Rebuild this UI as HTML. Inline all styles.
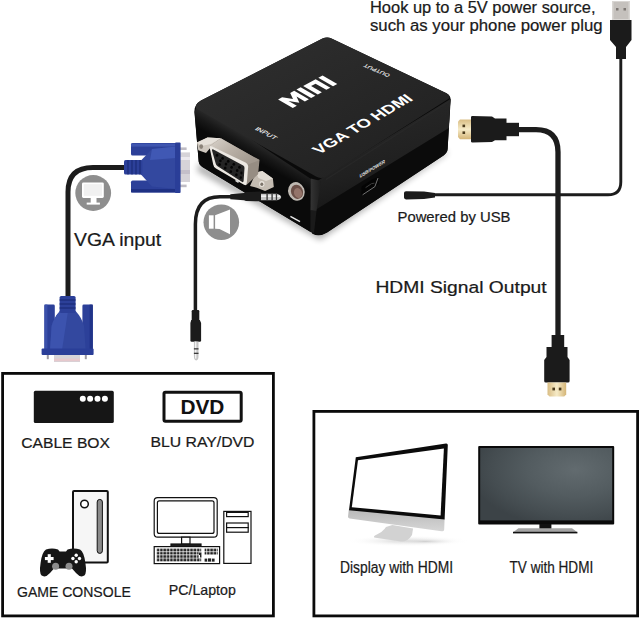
<!DOCTYPE html>
<html>
<head>
<meta charset="utf-8">
<title>VGA to HDMI</title>
<style>
html,body{margin:0;padding:0;background:#fff;}
body{width:640px;height:619px;overflow:hidden;position:relative;font-family:"Liberation Sans",sans-serif;}
svg{position:absolute;left:0;top:0;display:block;}
text{font-family:"Liberation Sans",sans-serif;fill:#1a1a1a;}
</style>
</head>
<body>
<svg width="640" height="619" viewBox="0 0 640 619">
<defs>
  <linearGradient id="gTop" x1="0" y1="0" x2="1" y2="1">
    <stop offset="0" stop-color="#303030"/>
    <stop offset="1" stop-color="#1f1f1f"/>
  </linearGradient>
  <linearGradient id="gRight" x1="0" y1="0" x2="0.3" y2="1">
    <stop offset="0" stop-color="#2a2a2a"/>
    <stop offset="0.7" stop-color="#202020"/>
    <stop offset="1" stop-color="#161616"/>
  </linearGradient>
  <linearGradient id="gLeft" gradientUnits="userSpaceOnUse" x1="250" y1="139.1" x2="242.1" y2="153">
    <stop offset="0" stop-color="#272727"/>
    <stop offset="0.45" stop-color="#181818"/>
    <stop offset="1" stop-color="#0a0a0a"/>
  </linearGradient>
  <linearGradient id="gEdge" x1="0" y1="0" x2="1" y2="0">
    <stop offset="0" stop-color="#343434"/>
    <stop offset="1" stop-color="#1d1d1d"/>
  </linearGradient>
  <radialGradient id="gTV" cx="0.72" cy="0.3" r="0.8" gradientTransform="translate(0 0) scale(1 1)">
    <stop offset="0" stop-color="#626b6f"/>
    <stop offset="0.45" stop-color="#535c60"/>
    <stop offset="0.8" stop-color="#454d51"/>
    <stop offset="1" stop-color="#3c4347"/>
  </radialGradient>
  <linearGradient id="gGold" x1="0" y1="0" x2="0" y2="1">
    <stop offset="0" stop-color="#d9bd84"/>
    <stop offset="0.5" stop-color="#f6ebc8"/>
    <stop offset="1" stop-color="#d4b577"/>
  </linearGradient>
  <linearGradient id="gGoldH" x1="0" y1="0" x2="1" y2="0">
    <stop offset="0" stop-color="#d9bd84"/>
    <stop offset="0.5" stop-color="#f6ebc8"/>
    <stop offset="1" stop-color="#d4b577"/>
  </linearGradient>
  <linearGradient id="gSilver" x1="0" y1="0" x2="0" y2="1">
    <stop offset="0" stop-color="#e4e0da"/>
    <stop offset="1" stop-color="#a9a39a"/>
  </linearGradient>
  <linearGradient id="gChin" x1="0" y1="0" x2="0" y2="1">
    <stop offset="0" stop-color="#b9b9b9"/>
    <stop offset="1" stop-color="#d6d6d6"/>
  </linearGradient>
  <radialGradient id="gShadow" cx="0.5" cy="0.5" r="0.5">
    <stop offset="0" stop-color="#cfcfcf"/>
    <stop offset="1" stop-color="#ffffff" stop-opacity="0"/>
  </radialGradient>
  <pattern id="pKeys" x="156.6" y="548.4" width="3.35" height="3.35" patternUnits="userSpaceOnUse">
    <rect x="0.2" y="0.2" width="2.6" height="2.6" fill="#222"/>
  </pattern>
  <linearGradient id="gShell" x1="0" y1="0" x2="1" y2="0.6">
    <stop offset="0" stop-color="#d9d3cb"/>
    <stop offset="0.5" stop-color="#b9b0a6"/>
    <stop offset="1" stop-color="#a2998f"/>
  </linearGradient>
  <filter id="fBlur" x="-20%" y="-40%" width="140%" height="180%"><feGaussianBlur stdDeviation="3.2"/></filter>
</defs>

<rect x="0" y="0" width="640" height="619" fill="#ffffff"/>

<!-- ============ CABLES ============ -->
<g fill="none" stroke="#1c1c1c" stroke-linecap="butt">
  <!-- VGA cable -->
  <path d="M68 299 L68 192 Q68 167.5 93 167.5 L126 167.5" stroke-width="5"/>
  <!-- audio cable -->
  <path d="M195.4 311 L195.4 224 Q195.4 196.7 220 196.7 L232 196.7" stroke-width="3.5"/>
  <!-- HDMI cable -->
  <path d="M517 129.6 L536 129.6 Q558 129.6 558 152 L558 337" stroke-width="5.3"/>
  <!-- USB power cable -->
  <path d="M433 194.8 L608 194.8 Q620.8 194.8 620.8 182 L620.8 58" stroke-width="2.9"/>
</g>

<!-- ============ USB-A plug (top right) ============ -->
<g>
  <rect x="612" y="1" width="18" height="19" fill="#d9d6d3"/>
  <rect x="613.5" y="2" width="15" height="17" fill="#c5c1bd"/>
  <rect x="616" y="8" width="2.5" height="2.5" fill="#7d7773"/>
  <rect x="623.5" y="8" width="2.5" height="2.5" fill="#7d7773"/>
  <path d="M610 20 L631.5 20 L631.5 40 L626 47 L626 59 L616 59 L616 47 L610 40 Z" fill="#1b1b1b"/>
</g>

<!-- ============ HDMI plug (top, horizontal) ============ -->
<g>
  <path d="M458 121.5 L460 119.5 L471.5 119.5 L471.5 139.2 L460 139.2 L458 137 Z" fill="url(#gGold)"/>
  <rect x="462.5" y="124.6" width="2.6" height="2.6" fill="#4a3a1c"/>
  <rect x="462.5" y="131.4" width="2.6" height="2.6" fill="#4a3a1c"/>
  <path d="M471 117 Q471 116 472.5 116 L492 116.5 L495 118.5 L506.5 118.5 L506.5 140.2 L495 140.2 L492 142 L472.5 142.5 Q471 142.5 471 141.5 Z" fill="#1b1b1b"/>
  <rect x="506" y="122.8" width="13" height="13.4" fill="#1b1b1b"/>
</g>

<!-- ============ HDMI plug (bottom, vertical) ============ -->
<g>
  <rect x="551.6" y="335" width="12.6" height="12" fill="#1b1b1b"/>
  <path d="M546.5 347 L567.5 347 L567.5 357 L569.6 360 L569.6 381 Q569.6 382.6 568 382.6 L545.8 382.6 Q544.2 382.6 544.2 381 L544.2 360 L546.5 357 Z" fill="#1b1b1b"/>
  <path d="M547.5 382.4 L566.2 382.4 L566.2 394.5 L564.2 396.5 L549.5 396.5 L547.5 394.5 Z" fill="url(#gGoldH)"/>
  <rect x="552.4" y="387.6" width="2.6" height="2.8" fill="#4a3a1c"/>
  <rect x="558.8" y="387.6" width="2.6" height="2.8" fill="#4a3a1c"/>
</g>

<!-- ============ DC barrel plug ============ -->
<g>
  <path d="M404 193 Q404 191.2 406 191.2 L424 191.6 L435 193 L435 197.4 L424 199 L406 199.4 Q404 199.4 404 197.6 Z" fill="#1b1b1b"/>
</g>

<!-- ============ CONVERTER BOX ============ -->
<g id="box">
  <path d="M199 163 L318 231 L447 150 L447 154 L320 240 L197 171 Z" fill="#000" opacity="0.32" filter="url(#fBlur)"/>
  <!-- silhouette -->
  <path d="M194.4 112 Q194 104.5 201 100.4 L322.5 38.6 Q327 36.3 331.5 38.5 L446.5 93.2 Q451.2 95.6 450.6 101 L447.6 149 Q447.3 153 443.5 155.4 L327 232.6 Q319 237.6 311 232.2 L202.4 167 Q199 165 198.7 161.6 Z" fill="#0a0a0a"/>
  <!-- left face -->
  <path d="M194.6 112 L198.7 161.6 Q199 165 202.4 167 L310.4 231.8 L311 179 L198 104 Z" fill="url(#gLeft)"/>
  <!-- right face -->
  <path d="M322 178 L450.4 99 L447.6 149 Q447.3 153 443.5 155.4 L327 232.6 Q319 237.6 312 233.5 L316 182 Z" fill="#0b0b0b"/>
  <path d="M322 178 L450.4 99 L448.8 128 L313.6 211 L316 182 Z" fill="url(#gRight)"/>
  <!-- top face -->
  <path d="M195.6 107 Q196 103 201 100.4 L322.5 38.6 Q327 36.3 331.5 38.5 L446.5 93.2 Q451 95.5 449 98.5 L326 176.4 Q321 179.4 316 176.6 L198 109.6 Q195.4 108.6 195.6 107 Z" fill="url(#gTop)"/>
  <!-- front edge highlight -->
  <path d="M310.8 178.5 L321 181 L316.5 211 L310.5 210.6 Z" fill="url(#gEdge)"/>
  <path d="M310.5 210.6 L316.5 211 L314 233 L310.4 231.6 Z" fill="#1a1a1a"/>
  <path d="M326 179.5 L449 101.5" stroke="#2b2b2b" stroke-width="1.2" fill="none" opacity="0.6"/>

  <!-- VGA port -->
  <g>
    <!-- left ear -->
    <path d="M196.9 142.5 L207.5 137.6 L220.8 138.3 L211 147 L206 153.1 L198.3 150.3 Z" fill="#cfc8bf"/>
    <path d="M196.9 142.5 L207.5 137.6 L220.8 138.3 L211 144 L201 146 Z" fill="#e6e1da"/>
    <ellipse cx="201.2" cy="146.6" rx="1.9" ry="2.3" fill="#8b8379"/>
    <!-- right ear / flange -->
    <path d="M256 172.5 L262.3 171 L272.9 178.4 L273.8 186.9 L265.1 191 L256.7 187.8 L250 186 Z" fill="#c4bcb2"/>
    <path d="M256 172.5 L262.3 171 L272.9 178.4 L266 181 L258.5 178 Z" fill="#e2dcd4"/>
    <ellipse cx="261.8" cy="184" rx="2.7" ry="3" fill="#e8e3dc"/>
    <ellipse cx="261.8" cy="184.2" rx="1.5" ry="1.8" fill="#7c746a"/>
    <!-- shell top side -->
    <path d="M210 146.1 L220.8 138.3 L259.5 160.1 L258.1 174.2 L246.2 185.2 L247.6 164.6 Z" fill="#968d83"/>
    <path d="M210 146.1 L220.8 138.3 L259.5 160.1 L247.6 164.6 Z" fill="url(#gShell)"/>
    <!-- rim -->
    <path d="M209.6 147.6 Q209.4 145.4 211.6 146.2 L246 162.8 Q248.4 164.2 248.2 166.6 L246.8 183.4 Q246.4 186 244 184.8 L216 168.4 Q213.6 167 213.2 164.4 Z" fill="#ece8e2"/>
    <!-- inner -->
    <path d="M212 150.4 Q211.8 148.8 213.4 149.6 L243.2 165.6 Q244.6 166.4 244.5 168 L243.6 181 Q243.4 182.8 241.8 181.8 L217.6 166.2 Q216 165.2 215.7 163.4 Z" fill="#242424"/>
    <g fill="#050505">
      <ellipse cx="217" cy="155.2" rx="1.3" ry="1.5"/><ellipse cx="222.6" cy="158.2" rx="1.3" ry="1.5"/><ellipse cx="228.2" cy="161.2" rx="1.3" ry="1.5"/><ellipse cx="233.8" cy="164.2" rx="1.3" ry="1.5"/><ellipse cx="239.4" cy="167.2" rx="1.3" ry="1.5"/>
      <ellipse cx="220.4" cy="160.8" rx="1.3" ry="1.5"/><ellipse cx="226" cy="164" rx="1.3" ry="1.5"/><ellipse cx="231.6" cy="167.2" rx="1.3" ry="1.5"/><ellipse cx="237.2" cy="170.4" rx="1.3" ry="1.5"/><ellipse cx="241.4" cy="173" rx="1.1" ry="1.4"/>
      <ellipse cx="219.6" cy="164.6" rx="1.3" ry="1.5"/><ellipse cx="225.2" cy="168" rx="1.3" ry="1.5"/><ellipse cx="230.8" cy="171.4" rx="1.3" ry="1.5"/><ellipse cx="236.4" cy="174.8" rx="1.3" ry="1.5"/><ellipse cx="240.8" cy="177.6" rx="1.1" ry="1.4"/>
    </g>
    <rect x="235.4" y="180.4" width="3.6" height="1.6" fill="#ddd" transform="rotate(31 237 181)"/>
  </g>

  <!-- audio jack -->
  <ellipse cx="296.4" cy="191.4" rx="8.2" ry="9.4" fill="#bfb9b2" transform="rotate(-20 296.4 191.4)"/>
  <ellipse cx="297" cy="191.8" rx="6" ry="7.2" fill="#6c5048" transform="rotate(-20 297 191.8)"/>
  <ellipse cx="298" cy="193" rx="4" ry="5" fill="#94746a" transform="rotate(-20 298 193)"/>
  <!-- audio label -->
  <path d="M290.4 216.4 L300 221.6" stroke="#e8e8e8" stroke-width="1.5" fill="none"/>

  <!-- mini USB port -->
  <path d="M361.6 186.4 L372.4 179.2 L378.4 177 L378.6 184 L375.2 186.6 L363.2 194.8 Q361.4 195.6 361.4 193.8 Z" fill="#040404"/>
  <path d="M362.6 194.8 L374.9 186.6 L378 178" stroke="#8f8f8f" stroke-width="0.8" fill="none"/>
  <path d="M365.6 187.6 L371.6 183.6 L374.4 183.2" stroke="#3c3c3c" stroke-width="1" fill="none"/>

  <!-- TEXT ON BOX -->
  <g fill="#ffffff">
    <!-- MINI logo: local box 100x30 -->
    <g transform="matrix(0.447 -0.2405 0.49 0.283 278.1 99.4)">
      <path d="M0 0 L9 0 L18 14 L27 0 L36 0 L36 30 L27 30 L27 13 L18 27 L9 13 L9 30 L0 30 Z"/>
      <rect x="41" y="0" width="9.5" height="30"/>
      <path d="M56 30 L56 0 L84 0 L84 30 L75 30 L75 8 L65 8 L65 30 Z"/>
      <rect x="90" y="0" width="9.5" height="30"/>
    </g>
    <text transform="matrix(1.434 -0.836 1.21 0.91 319.2 154.8)" font-size="10" font-weight="bold" style="fill:#fff">VGA TO HDMI</text>
    <text transform="matrix(-0.615 -0.263 0.343 -0.384 390.5 74.5)" font-size="10" style="fill:#f0f0f0" stroke="#f0f0f0" stroke-width="0.25">OUTPUT</text>
    <text transform="matrix(0.667 0.347 -0.48 0.384 254.5 129.4)" font-size="10" style="fill:#f0f0f0" stroke="#f0f0f0" stroke-width="0.25">INPUT</text>
    <text transform="matrix(0.409 -0.245 0.02 0.5 359.7 178)" font-size="10" font-weight="bold" style="fill:#e6e6e6">USB/POWER</text>
  </g>
</g>

<!-- ============ AUDIO 3.5mm plug (horizontal, into box) ============ -->
<g>
  <path d="M230.3 194.2 L244 193 L246 192 L260 191.6 Q261.4 191.6 261.4 193 L261.4 200 Q261.4 201.3 260 201.3 L246 201 L244 200.2 L230.3 199.2 Z" fill="#1b1b1b"/>
  <path d="M261 193.8 L277 193.8 Q281 195 281.2 197 Q281 199.2 277 200.3 L261 200.3 Z" fill="#c6c6c6"/>
  <rect x="261" y="195.4" width="19" height="1.5" fill="#f4f4f4"/>
  <rect x="266.4" y="193.8" width="1.4" height="6.5" fill="#3a3a3a"/>
  <rect x="271.4" y="193.8" width="1.4" height="6.5" fill="#3a3a3a"/>
  <rect x="275.8" y="193.8" width="1.3" height="6.5" fill="#3a3a3a"/>
</g>
<!-- audio plug (vertical, lower) -->
<g>
  <rect x="191.7" y="310" width="7.6" height="10.4" rx="1.2" fill="#1b1b1b"/>
  <path d="M191.2 320 L199.8 320 L201.1 323 L201.1 340.4 Q201.1 341.8 199.6 341.8 L191.8 341.8 Q190.4 341.8 190.4 340.4 L190.4 323 Z" fill="#1b1b1b"/>
  <path d="M193.9 341.6 L198.5 341.6 L198.5 356 Q198.5 360.4 196.2 360.4 Q193.9 360.4 193.9 356 Z" fill="#c4c4c4"/>
  <rect x="195" y="341.6" width="1.4" height="17" fill="#f2f2f2"/>
  <rect x="193.9" y="348.2" width="4.6" height="1.3" fill="#3a3a3a"/>
  <rect x="193.9" y="352.7" width="4.6" height="1.3" fill="#3a3a3a"/>
</g>

<!-- ============ BLUE VGA plug (horizontal) ============ -->
<g>
  <!-- metal -->
  <rect x="180" y="152.4" width="10" height="29.6" fill="#d6d3d8"/>
  <rect x="180" y="157" width="10" height="3" fill="#ece9ee"/>
  <rect x="180" y="170" width="10" height="4" fill="#c4bfc9"/>
  <rect x="180" y="147.4" width="6.6" height="2.6" fill="#bfbcc4"/>
  <rect x="180" y="184.6" width="6.6" height="2.6" fill="#bfbcc4"/>
  <!-- thumbscrew bars -->
  <rect x="131" y="143" width="48" height="12.6" rx="1.6" fill="#2c4099"/>
  <rect x="131" y="180.6" width="48" height="12" rx="1.6" fill="#2c4099"/>
  <rect x="131" y="143.6" width="48" height="3" fill="#3f56b0"/>
  <rect x="131" y="189" width="48" height="3.4" fill="#1f3184"/>
  <!-- body -->
  <path d="M141 160.4 L152 149 L176 146.6 L176 189 L152 186.6 L141 174.6 Z" fill="#33489f"/>
  <path d="M152 149 L176 146.6 L176 158 L150 160 Z" fill="#4058b4"/>
  <!-- front plate -->
  <rect x="175" y="142.6" width="5.6" height="50.4" rx="1" fill="#2a3e98"/>
  <!-- strain relief -->
  <rect x="124" y="160" width="18.4" height="14.6" rx="1.6" fill="#2c4099"/>
  <g stroke="#1b2c78" stroke-width="1.2">
    <path d="M128 160 V174.6"/><path d="M132 160 V174.6"/><path d="M136 160 V174.6"/><path d="M140 160 V174.6"/>
  </g>
</g>

<!-- ============ BLUE VGA plug (vertical, bottom) ============ -->
<g>
  <!-- metal -->
  <rect x="54" y="354.6" width="26" height="7.4" fill="#d6d3d8"/>
  <rect x="54" y="358.6" width="26" height="2.6" fill="#e6c9cd"/>
  <rect x="46.8" y="354.6" width="2" height="4.6" fill="#9d9aa2"/>
  <rect x="84.8" y="354.6" width="2" height="4.6" fill="#9d9aa2"/>
  <!-- thumbscrews -->
  <rect x="44.4" y="304.6" width="10.4" height="46" rx="1.4" fill="#2c4099"/>
  <rect x="82.4" y="304.6" width="10.4" height="46" rx="1.4" fill="#2c4099"/>
  <rect x="44.4" y="304.6" width="3" height="46" fill="#3a50aa"/>
  <rect x="89.6" y="304.6" width="3.2" height="46" fill="#213489"/>
  <!-- body -->
  <path d="M60 311 L75.6 311 Q82 318 84 326 L85.6 350 L50 350 L51.6 326 Q53.6 318 60 311 Z" fill="#33489f"/>
  <path d="M60 311 L68 311 L62 350 L50 350 L51.6 326 Q53.6 318 60 311 Z" fill="#3c53ae"/>
  <!-- front plate -->
  <rect x="41.6" y="348.4" width="52" height="6.6" rx="1" fill="#2a3e98"/>
  <!-- strain relief -->
  <rect x="59.6" y="296" width="16" height="17" rx="1.6" fill="#2c4099"/>
  <g stroke="#1b2c78" stroke-width="1.2">
    <path d="M59.6 300 H75.6"/><path d="M59.6 304 H75.6"/><path d="M59.6 308 H75.6"/>
  </g>
</g>

<!-- ============ Gray icons ============ -->
<g>
  <circle cx="93.2" cy="193" r="17.9" fill="#8e8e8e"/>
  <rect x="82" y="182.4" width="21.8" height="15.6" rx="1.4" fill="#fff"/>
  <rect x="83.8" y="184.2" width="18.2" height="11.6" fill="#f1f1f1"/>
  <rect x="90.7" y="198" width="5.8" height="5" fill="#fff"/>
  <rect x="86.7" y="202.6" width="13.2" height="2" fill="#fff"/>
  <circle cx="221.3" cy="222.2" r="17.8" fill="#8e8e8e"/>
  <rect x="208.9" y="215.3" width="4.7" height="13.4" fill="#fff"/>
  <path d="M215.1 215.3 L230 209.4 L230 234.2 L219.5 229.1 L215.1 228.7 Z" fill="#fff"/>
</g>

<!-- ============ Bordered boxes ============ -->
<rect x="2.6" y="373.4" width="270.8" height="242.5" fill="none" stroke="#0a0a0a" stroke-width="2.8"/>
<rect x="313.9" y="411.4" width="323.7" height="204.5" fill="none" stroke="#0a0a0a" stroke-width="2.8"/>

<!-- Cable box icon -->
<rect x="33.8" y="390.8" width="80" height="32.2" rx="1.6" fill="#161616"/>
<g fill="#fff"><circle cx="82.8" cy="398.8" r="3"/><circle cx="90.1" cy="398.8" r="3"/><circle cx="97.5" cy="398.8" r="3"/><circle cx="104.9" cy="398.8" r="3"/></g>

<!-- DVD icon -->
<rect x="164" y="392.2" width="77.2" height="29" rx="1.4" fill="#fff" stroke="#111" stroke-width="3"/>
<text x="180.4" y="414.2" font-size="21" font-weight="bold" textLength="44" lengthAdjust="spacingAndGlyphs" style="fill:#111">DVD</text>

<!-- Game console icon -->
<g>
  <rect x="73" y="491" width="34.8" height="71.6" rx="1" fill="#f6f6f6" stroke="#111" stroke-width="2"/>
  <circle cx="84.5" cy="504" r="3.8" fill="#fff" stroke="#111" stroke-width="1.5"/>
  <rect x="97.2" y="499.4" width="5.2" height="54" rx="2.6" fill="#8a8a8a" stroke="#111" stroke-width="1"/>
  <!-- gamepad -->
  <path d="M46 549.6 Q52 547.4 58 549.6 L59.6 551.4 L66 551.4 L67.6 549.6 Q74 547.4 80 549.6 Q84 552 85.4 563 Q87 573 84.4 575.6 Q80.4 578 76 573 L72 568.6 L54 568.6 L50 573 Q45.6 578 41.6 575.6 Q39 573 40.6 563 Q42 552 46 549.6 Z" fill="#161616"/>
  <rect x="47.7" y="554.2" width="3.1" height="8.6" fill="#fff"/><rect x="44.9" y="557" width="8.7" height="3.1" fill="#fff"/>
  <g fill="#fff"><circle cx="76.2" cy="555.2" r="1.7"/><circle cx="76.2" cy="561.8" r="1.7"/><circle cx="72.9" cy="558.5" r="1.7"/><circle cx="79.5" cy="558.5" r="1.7"/></g>
  <circle cx="55.6" cy="566.2" r="3.5" fill="#8c8c8c"/><circle cx="69" cy="566.2" r="3.5" fill="#8c8c8c"/>
</g>

<!-- PC icon -->
<g fill="none" stroke="#111" stroke-width="1.2">
  <rect x="154.2" y="497.6" width="63" height="39.6" rx="3.4" fill="#fff"/>
  <rect x="157.4" y="500.8" width="56.6" height="32.6" rx="2" fill="#fff"/>
  <rect x="181.6" y="537.2" width="8.4" height="7" fill="#fff"/>
  <rect x="171" y="544" width="30" height="2.4" fill="#222"/>
  <rect x="154.2" y="546.6" width="65.4" height="17" fill="#fff"/>
  <rect x="223.8" y="511.4" width="27.2" height="52" fill="#fff"/>
  <rect x="226.6" y="512.4" width="21.6" height="4.2" fill="#fff"/>
  <rect x="226.6" y="523" width="21.6" height="4.6" fill="#fff"/>
  <rect x="226.6" y="527.6" width="21.6" height="4.6" fill="#fff"/>
</g>
<g>
  <rect x="156.6" y="548.4" width="44.6" height="13.4" fill="url(#pKeys)"/>
  <rect x="204.6" y="548.4" width="13.2" height="6.6" fill="url(#pKeys)"/>
  <rect x="208" y="558.4" width="3.2" height="3.2" fill="#222"/>
  <rect x="204.8" y="561" width="9.8" height="0.1" fill="#222"/>
  <rect x="204.6" y="558.6" width="2.6" height="3" fill="#222"/><rect x="212" y="558.6" width="2.6" height="3" fill="#222"/>
  <rect x="198.6" y="552" width="3" height="6" fill="#fff"/>
  <path d="M199 552.4 L201.4 552.4 L201.4 557.6 L200 557.6 L200 555 L199 555 Z" fill="#222"/>
</g>

<!-- ============ iMac display ============ -->
<g>
  <ellipse cx="408" cy="541" rx="62" ry="5.6" fill="url(#gShadow)"/>
  <ellipse cx="425" cy="541.4" rx="34" ry="3.2" fill="url(#gShadow)"/>
  <path d="M392.3 525 L413.1 528.5 L412 535 Q408 541.8 401 541.6 L375.5 537.8 Q372.5 537 375 535.4 Q383 532 386 527 Z" fill="#d2d2d2"/>
  <path d="M348.8 509.5 L444.6 518.4 L444.2 529.4 Q444 531.6 441.6 531.2 L349.6 518.4 Q347.8 518 348 516.4 Z" fill="url(#gChin)"/>
  <path d="M355.8 457.2 L446 443.4 Q447.9 443.2 447.8 445.2 L444.6 519.6 L349 510.2 Z" fill="#0b0b0b"/>
  <path d="M358 460.2 L443.9 448.4 L440.6 515.4 L351.8 507.2 Z" fill="#ffffff"/>
</g>

<!-- ============ TV ============ -->
<g>
  <rect x="478.2" y="446" width="136" height="78.6" rx="1" fill="#0a0a0a"/>
  <rect x="480.2" y="448" width="132" height="72.4" fill="url(#gTV)"/>
  <rect x="539.4" y="524" width="12" height="5" fill="#111"/>
  <path d="M518.4 528.2 L572 528.2 L577.4 532.2 L513 532.2 Z" fill="#a4a4a4"/>
  <rect x="513" y="531.8" width="64.4" height="1.6" fill="#111"/>
</g>

<!-- ============ LABELS ============ -->
<g stroke="#1a1a1a" stroke-width="0.22">
  <text x="370" y="12.5" font-size="16" textLength="225.5" lengthAdjust="spacingAndGlyphs">Hook up to a 5V power source,</text>
  <text x="370" y="30.5" font-size="16" textLength="232.5" lengthAdjust="spacingAndGlyphs">such as your phone power plug</text>
  <text x="74" y="246.2" font-size="17.5" textLength="87.2" lengthAdjust="spacingAndGlyphs">VGA input</text>
  <text x="397.5" y="222" font-size="14.8" textLength="113" lengthAdjust="spacingAndGlyphs">Powered by USB</text>
  <text x="375.4" y="293.2" font-size="16.3" textLength="171.3" lengthAdjust="spacingAndGlyphs">HDMI Signal Output</text>
  <text x="21.2" y="448" font-size="15" textLength="88.8" lengthAdjust="spacingAndGlyphs">CABLE BOX</text>
  <text x="150.5" y="447" font-size="15" textLength="104" lengthAdjust="spacingAndGlyphs">BLU RAY/DVD</text>
  <text x="17" y="597.2" font-size="15.4" textLength="113.8" lengthAdjust="spacingAndGlyphs">GAME CONSOLE</text>
  <text x="168.8" y="594.5" font-size="14.6" textLength="67" lengthAdjust="spacingAndGlyphs">PC/Laptop</text>
  <text x="340" y="572.8" font-size="15.8" textLength="113" lengthAdjust="spacingAndGlyphs">Display with HDMI</text>
  <text x="509.6" y="573.2" font-size="15.8" textLength="83.6" lengthAdjust="spacingAndGlyphs">TV with HDMI</text>
</g>
</svg>
</body>
</html>
